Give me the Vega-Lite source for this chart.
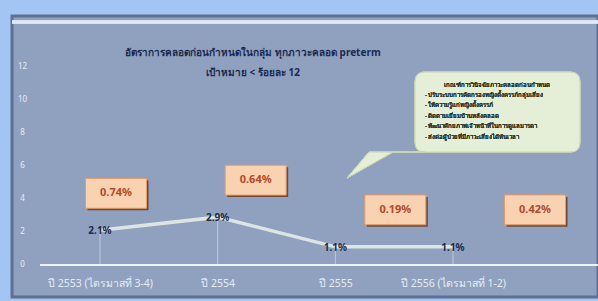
{
  "$schema": "https://vega.github.io/schema/vega-lite/v6.json",
  "width": 586,
  "height": 281,
  "autosize": "none",
  "padding": {"left": 12, "top": 16, "right": 0, "bottom": 4},
  "background": "#a3c5f3",
  "config": {
    "view": {"fill": "#8fa1bf", "stroke": "#5f7094", "strokeWidth": 3},
    "font": "Noto Sans"
  },
  "title": {
    "text": "อัตราการคลอดก่อนกำหนดในกลุ่ม ทุกภาวะคลอด preterm",
    "subtitle": "เป้าหมาย < ร้อยละ 12",
    "anchor": "middle",
    "frame": "group",
    "dx": -52,
    "offset": -62,
    "fontSize": 10,
    "fontWeight": "bold",
    "color": "#1c2a50",
    "subtitleFontSize": 10,
    "subtitleFontWeight": "bold",
    "subtitleColor": "#1c2a50",
    "subtitlePadding": 10
  },
  "data": {
    "values": [
      {"period": "ปี 2553 (ไตรมาสที่ 3-4)", "rate": 2.1, "rate_label": "2.1%", "other": 0.74, "other_label": "0.74%"},
      {"period": "ปี 2554", "rate": 2.9, "rate_label": "2.9%", "other": 0.64, "other_label": "0.64%"},
      {"period": "ปี 2555", "rate": 1.1, "rate_label": "1.1%", "other": 0.19, "other_label": "0.19%"},
      {"period": "ปี 2556 (ไตรมาสที่ 1-2)", "rate": 1.1, "rate_label": "1.1%", "other": 0.42, "other_label": "0.42%"}
    ]
  },
  "resolve": {"scale": {"x": "independent"}},
  "layer": [
    {
      "encoding": {
        "x": {
          "field": "period", "type": "ordinal", "sort": null,
          "scale": {"type": "point", "range": [88, 441], "padding": 0},
          "axis": {
            "title": null, "orient": "bottom", "offset": -14, "labelPadding": 0,
            "labelBaseline": "middle", "ticks": false, "domain": false,
            "labelAngle": 0, "labelFontSize": 10.5, "labelColor": "#e6ecf6",
            "labelOverlap": false, "labelLimit": 0
          }
        },
        "y": {
          "field": "rate", "type": "quantitative",
          "scale": {"domain": [-1.94, 15.09], "nice": false, "zero": false},
          "axis": {
            "title": null, "values": [0, 2, 4, 6, 8, 10, 12], "offset": -14,
            "labelPadding": 4, "labelAlign": "center", "ticks": false, "domain": false,
            "grid": false, "labelFontSize": 8, "labelColor": "#e6ecf6"
          }
        }
      },
      "layer": [
        {
          "mark": {"type": "rule", "color": "#e8eef6", "opacity": 0.55, "strokeWidth": 1},
          "encoding": {"y": {"datum": 0}, "y2": {"field": "rate"}}
        },
        {
          "mark": {"type": "rule", "color": "#eef3fa", "strokeWidth": 2, "xOffset": -60, "x2Offset": 145},
          "encoding": {
            "x": {"datum": "ปี 2553 (ไตรมาสที่ 3-4)"},
            "x2": {"datum": "ปี 2556 (ไตรมาสที่ 1-2)"},
            "y": {"datum": 0}
          }
        },
        {
          "mark": {"type": "line", "color": "#dde5e2", "strokeWidth": 3.5}
        },
        {
          "mark": {"type": "text", "fontSize": 10, "fontWeight": "bold", "color": "#1e2c4c", "dy": 1},
          "encoding": {"text": {"field": "rate_label"}}
        }
      ]
    },
    {
      "mark": {"type": "rule", "color": "#dfe8f6", "strokeWidth": 3},
      "encoding": {"y": {"datum": 14.73, "type": "quantitative"}}
    },
    {
      "encoding": {
        "x": {
          "field": "period", "type": "ordinal", "sort": null,
          "scale": {"type": "point", "range": [104, 523], "padding": 0},
          "axis": null
        },
        "y": {"field": "rate", "type": "quantitative"}
      },
      "layer": [
        {
          "mark": {"type": "point", "shape": "M-1,-0.49H1V0.49H-1Z", "size": 3721, "filled": true, "opacity": 1, "color": "#6e4a36", "xOffset": 2, "yOffset": -35},
          "encoding": {}
        },
        {
          "mark": {"type": "point", "shape": "M-1,-0.49H1V0.49H-1Z", "size": 3721, "filled": true, "opacity": 1, "color": "#f9d2b1", "stroke": "#e59a68", "strokeWidth": 1, "yOffset": -37},
          "encoding": {}
        },
        {
          "mark": {"type": "text", "fontSize": 11, "fontWeight": "bold", "color": "#b34a28", "yOffset": -37},
          "encoding": {"text": {"field": "other_label"}}
        },
        {
          "mark": {
            "type": "point",
            "shape": "M-1.1,-0.395H0.35Q0.45,-0.395 0.45,-0.295V0.305Q0.45,0.405 0.35,0.405H-1.42L-1.88,0.665L-1.66,0.405H-1.1Q-1.2,0.405 -1.2,0.305V-0.295Q-1.2,-0.395 -1.1,-0.395Z",
            "size": 40000, "filled": true, "opacity": 1, "color": "#e5eed6", "stroke": "#c9d5b3", "strokeWidth": 1
          },
          "encoding": {
            "x": {"datum": "ปี 2556 (ไตรมาสที่ 1-2)"},
            "y": {"datum": 9.3}
          }
        },
        {
          "mark": {"type": "text", "fontSize": 6, "color": "#2b3a2a", "align": "center", "dx": -38, "dy": -27},
          "encoding": {
            "x": {"datum": "ปี 2556 (ไตรมาสที่ 1-2)"},
            "y": {"datum": 9.3},
            "text": {"value": "เกณฑ์การวินิจฉัยภาวะคลอดก่อนกำหนด"}
          }
        },
        {
          "mark": {"type": "text", "fontSize": 6, "color": "#2b3a2a", "align": "left", "baseline": "top", "dx": -110, "dy": -20, "lineHeight": 10.5},
          "encoding": {
            "x": {"datum": "ปี 2556 (ไตรมาสที่ 1-2)"},
            "y": {"datum": 9.3},
            "text": {"value": ["- ปรับระบบการคัดกรองหญิงตั้งครรภ์กลุ่มเสี่ยง", "- ให้ความรู้แก่หญิงตั้งครรภ์", "- ติดตามเยี่ยมบ้านหลังคลอด", "- พัฒนาศักยภาพเจ้าหน้าที่ในการดูแลมารดา", "- ส่งต่อผู้ป่วยที่มีภาวะเสี่ยงได้ทันเวลา"]}
          }
        }
      ]
    }
  ]
}
